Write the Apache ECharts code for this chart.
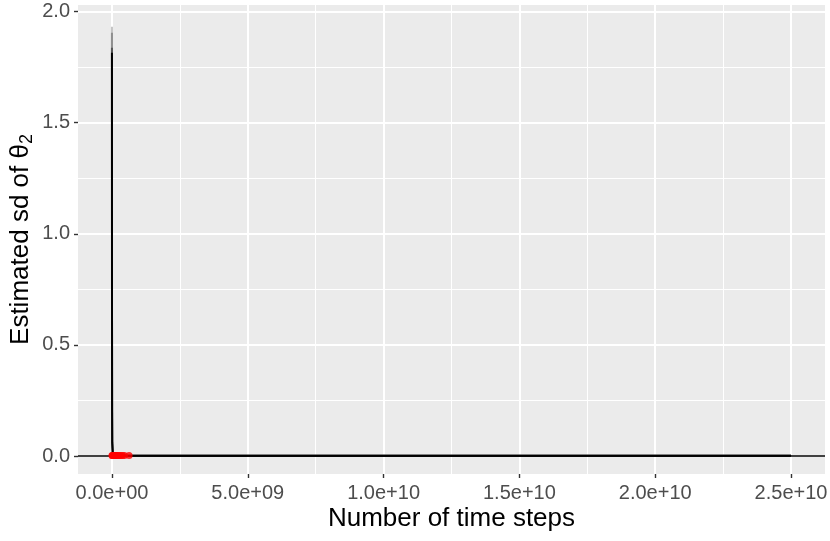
<!DOCTYPE html>
<html><head><meta charset="utf-8">
<script src="https://cdn.jsdelivr.net/npm/echarts@6/dist/echarts.min.js"></script>
<style>html,body{margin:0;padding:0;background:#fff}#c{width:830px;height:541px}</style>
</head><body><div id="c"></div>
<script>
// ---- data ----
const timeSteps  = [0, 2e6, 5e6, 1e7, 3e7, 1e8, 5e8, 2e9, 1e10, 2.5e10];
const sdEstimate = [1.815, 0.6, 0.2, 0.06, 0.015, 0.005, 0.002, 0.001, 0.001, 0.001];
// ribbon (uncertainty band) upper limits, three overlapping runs
const bandOuter  = [1.932, 0.65, 0.22, 0.07, 0.018, 0.006, 0.0025, 0.0012, 0.0012, 0.0012];
const bandMid    = [1.905, 0.63, 0.21, 0.065, 0.017, 0.0055, 0.0022, 0.0011, 0.0011, 0.0011];
const bandInner  = [1.838, 0.61, 0.205, 0.062, 0.016, 0.0052, 0.0021, 0.001, 0.001, 0.001];
// red points (final estimates)
const pointSteps = [0, 2e7, 4e7, 6e7, 9e7, 1.2e8, 1.5e8, 1.9e8, 2.3e8, 2.8e8, 3.3e8, 3.9e8, 4.6e8, 6.3e8];
const pointSd    = [0.002, 0.002, 0.002, 0.002, 0.002, 0.002, 0.002, 0.002, 0.002, 0.002, 0.002, 0.002, 0.002, 0.002];
// axes
const xTicks = [0, 5e9, 1e10, 1.5e10, 2e10, 2.5e10];
const xMinor = [2.5e9, 7.5e9, 1.25e10, 1.75e10, 2.25e10];
const yTicks = [0, 0.5, 1.0, 1.5, 2.0];
const yMinor = [0.25, 0.75, 1.25, 1.75];
const hlineY = 0;

const FONT = 'Liberation Sans';
const zip = (xs, ys) => xs.map((x, i) => [x, ys[i]]);
const xFmt = v => v.toExponential(1).replace(/e([+-])(\d)$/, 'e$10$2');

const chart = echarts.init(document.getElementById('c'), null, {renderer: 'canvas'});
const xBase = {type: 'value', min: -1.25e9, max: 2.625e10, position: 'bottom', axisLine: {show: false, onZero: false}};
const yBase = {type: 'value', min: -0.081, max: 2.03, position: 'left', axisLine: {show: false, onZero: false}};

chart.setOption({
  animation: false,
  grid: {left: 78, right: 5, top: 5, bottom: 67, show: true, backgroundColor: '#EBEBEB', borderWidth: 0,
         containLabel: false, outerBoundsMode: 'none'},
  xAxis: [
    Object.assign({}, xBase, {
      axisTick: {show: true, customValues: xTicks, length: 4, lineStyle: {color: '#333333', width: 1.4}},
      axisLabel: {show: true, customValues: xTicks, formatter: xFmt, color: '#4D4D4D', fontSize: 20, fontFamily: FONT, margin: 9},
      splitLine: {show: true, lineStyle: {color: '#FFFFFF', width: 2}},
      name: 'Number of time steps', nameLocation: 'middle', nameGap: 32, nameMoveOverlap: false,
      nameTextStyle: {color: '#000000', fontSize: 26, fontFamily: FONT}
    }),
    Object.assign({}, xBase, {
      axisTick: {show: false, customValues: xMinor},
      axisLabel: {show: false, customValues: xMinor},
      splitLine: {show: true, lineStyle: {color: '#FFFFFF', width: 1}}
    })
  ],
  yAxis: [
    Object.assign({}, yBase, {
      axisTick: {show: true, customValues: yTicks, length: 4, lineStyle: {color: '#333333', width: 1.4}},
      axisLabel: {show: true, customValues: yTicks, formatter: v => v.toFixed(1), color: '#4D4D4D', fontSize: 20, fontFamily: FONT, margin: 8},
      splitLine: {show: true, lineStyle: {color: '#FFFFFF', width: 2}},
      name: '{a|Estimated sd of θ}{b|2}', nameLocation: 'middle', nameGap: 42, nameRotate: 90, nameMoveOverlap: false,
      nameTextStyle: {color: '#000000', fontFamily: FONT, rich: {
        a: {fontSize: 26, fontFamily: FONT, color: '#000', lineHeight: 30},
        b: {fontSize: 18, fontFamily: FONT, color: '#000', lineHeight: 18, verticalAlign: 'bottom'}
      }}
    }),
    Object.assign({}, yBase, {
      axisTick: {show: false, customValues: yMinor},
      axisLabel: {show: false, customValues: yMinor},
      splitLine: {show: true, lineStyle: {color: '#FFFFFF', width: 1}}
    })
  ],
  series: [
    {type: 'line', data: zip(timeSteps, bandOuter), showSymbol: false, lineStyle: {color: '#C4C4C4', width: 2}, z: 2},
    {type: 'line', data: zip(timeSteps, bandMid), showSymbol: false, lineStyle: {color: '#8F8F8F', width: 2}, z: 3},
    {type: 'line', data: zip(timeSteps, bandInner), showSymbol: false, lineStyle: {color: '#555555', width: 2}, z: 4},
    {type: 'line', data: zip(timeSteps, sdEstimate), showSymbol: false, lineStyle: {color: '#000000', width: 2}, z: 5,
      markLine: {silent: true, symbol: ['none', 'none'], label: {show: false}, lineStyle: {color: '#000000', width: 1.6, type: 'solid'}, data: [{yAxis: hlineY}]}},
    {type: 'scatter', data: zip(pointSteps, pointSd), symbol: 'circle', symbolSize: 7, itemStyle: {color: '#FF0000'}, z: 6}
  ]
});
</script>
</body></html>
